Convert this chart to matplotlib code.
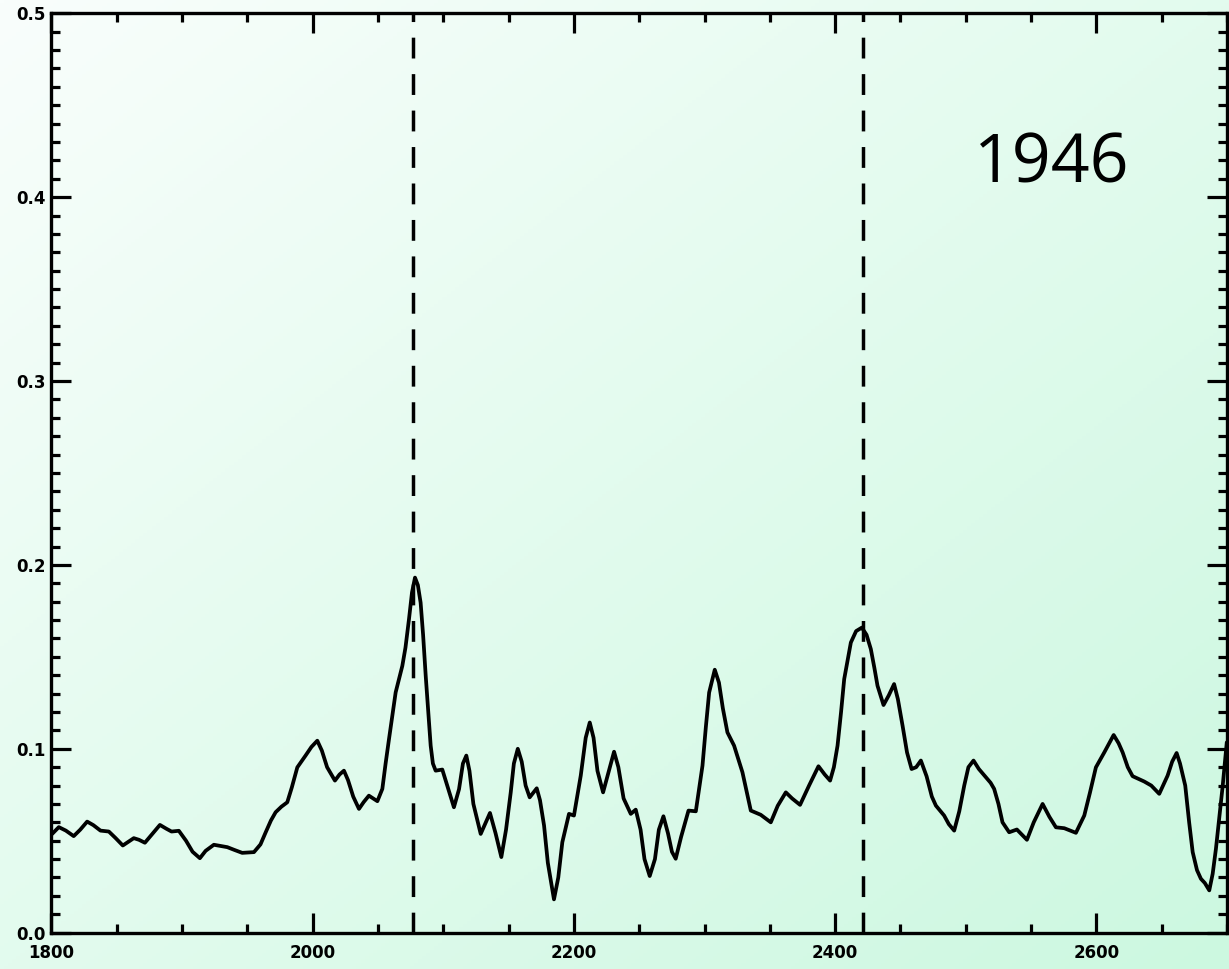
import numpy as np
import matplotlib.pyplot as plt
from matplotlib.ticker import MultipleLocator

# traced spectrum
wave = [1800.5, 1805.6, 1811, 1817, 1822, 1827.3, 1832, 1837.5, 1843.9, 1849,
        1854.6, 1859, 1863, 1867, 1871.5, 1877, 1883, 1888, 1891.9, 1897.5,
        1903, 1908, 1913.6, 1918, 1924.3, 1934.6, 1940, 1946, 1955, 1960,
        1964, 1968, 1971.6, 1976, 1980.5, 1984, 1988.2, 1994.5, 1999, 2003.5,
        2007, 2011, 2017, 2020.5, 2023.9, 2027, 2031, 2035.4, 2039, 2043,
        2049.5, 2053.3, 2055.8, 2058.4, 2063.5, 2068.6, 2071, 2073.7, 2076, 2078.3,
        2080.5, 2082.6, 2084.5, 2086.5, 2088.5, 2090.3, 2092, 2094.1, 2099.2, 2103,
        2108.1, 2112, 2115, 2117.6, 2120, 2123, 2128.6, 2135.7, 2140, 2144.4,
        2148, 2151.6, 2154, 2157, 2160, 2163, 2166.1, 2171.5, 2174, 2177.1,
        2180, 2184.7, 2188, 2191.1, 2196.2, 2200, 2205.2, 2209, 2212.1, 2215,
        2218, 2222.3, 2226, 2230.7, 2234, 2238, 2243.5, 2247.3, 2251, 2254,
        2258, 2262, 2265, 2268.5, 2272, 2275, 2277.9, 2282, 2287.7, 2293.3,
        2298.4, 2301, 2303.5, 2307.8, 2311, 2314, 2317.5, 2322.6, 2329, 2335.4,
        2343, 2350.7, 2356, 2362.2, 2367, 2373.1, 2380, 2387.2, 2392, 2396.1,
        2399, 2401.8, 2404.5, 2406.9, 2412, 2416, 2420.4, 2424, 2427.3, 2430,
        2432.4, 2437, 2441, 2445.1, 2448, 2451.6, 2455, 2458.5, 2462, 2465.6,
        2470, 2474, 2477.1, 2483.4, 2487, 2491.1, 2495, 2498.8, 2502, 2505.9,
        2510, 2515.4, 2519, 2521.7, 2525, 2528.1, 2533.2, 2539.1, 2546.8, 2552,
        2558.8, 2564, 2569, 2575.4, 2584.3, 2590.7, 2595, 2599.6, 2606, 2613.2,
        2617, 2620.1, 2624, 2627.7, 2636.6, 2642, 2648.1, 2654.5, 2658, 2661.4,
        2664, 2668, 2671, 2673.7, 2677, 2680, 2683, 2686.4, 2689, 2691.5,
        2694, 2696.7, 2699.8]
power = [0.0537, 0.0574, 0.0555, 0.0525, 0.0560, 0.0604, 0.0585, 0.0555, 0.0550, 0.0515,
         0.0474, 0.0495, 0.0514, 0.0505, 0.0489, 0.0535, 0.0586, 0.0565, 0.0550, 0.0554,
         0.0500, 0.0440, 0.0405, 0.0445, 0.0478, 0.0465, 0.0450, 0.0434, 0.0438, 0.0480,
         0.0546, 0.0610, 0.0655, 0.0685, 0.0709, 0.0790, 0.0899, 0.0963, 0.1010, 0.1044,
         0.0990, 0.0900, 0.0827, 0.0860, 0.0881, 0.0830, 0.0740, 0.0673, 0.0710, 0.0745,
         0.0715, 0.0782, 0.0920, 0.1053, 0.1307, 0.1451, 0.1550, 0.1705, 0.1850, 0.1931,
         0.1890, 0.1795, 0.1620, 0.1397, 0.1200, 0.1017, 0.0920, 0.0881, 0.0887, 0.0800,
         0.0682, 0.0780, 0.0920, 0.0963, 0.0880, 0.0700, 0.0537, 0.0651, 0.0540, 0.0411,
         0.0560, 0.0763, 0.0920, 0.1000, 0.0930, 0.0800, 0.0736, 0.0785, 0.0720, 0.0583,
         0.0380, 0.0181, 0.0300, 0.0492, 0.0646, 0.0637, 0.0854, 0.1060, 0.1143, 0.1060,
         0.0880, 0.0763, 0.0860, 0.0984, 0.0900, 0.0730, 0.0646, 0.0669, 0.0560, 0.0400,
         0.0308, 0.0400, 0.0560, 0.0633, 0.0540, 0.0440, 0.0402, 0.0520, 0.0664, 0.0660,
         0.0908, 0.1120, 0.1306, 0.1430, 0.1360, 0.1220, 0.1089, 0.1017, 0.0872, 0.0664,
         0.0641, 0.0600, 0.0690, 0.0763, 0.0730, 0.0695, 0.0800, 0.0905, 0.0860, 0.0827,
         0.0900, 0.1017, 0.1200, 0.1379, 0.1578, 0.1640, 0.1659, 0.1620, 0.1542, 0.1440,
         0.1343, 0.1238, 0.1290, 0.1352, 0.1270, 0.1125, 0.0980, 0.0890, 0.0900, 0.0936,
         0.0850, 0.0740, 0.0691, 0.0637, 0.0590, 0.0555, 0.0660, 0.0800, 0.0900, 0.0936,
         0.0890, 0.0845, 0.0815, 0.0782, 0.0700, 0.0600, 0.0546, 0.0561, 0.0505, 0.0600,
         0.0700, 0.0630, 0.0573, 0.0568, 0.0543, 0.0637, 0.0760, 0.0899, 0.0980, 0.1075,
         0.1030, 0.0980, 0.0900, 0.0851, 0.0822, 0.0800, 0.0755, 0.0854, 0.0930, 0.0977,
         0.0920, 0.0800, 0.0600, 0.0438, 0.0340, 0.0293, 0.0270, 0.0230, 0.0320, 0.0456,
         0.0620, 0.0800, 0.1035]

marker_lines = [2077, 2421]
label = "1946"

fig = plt.figure(figsize=(12.29, 9.69), dpi=100)

# diagonal white -> mint background
bg = fig.add_axes([0, 0, 1, 1], zorder=-1)
u, v = np.meshgrid(np.linspace(0, 1, 300), np.linspace(0, 1, 300))
t = (u + v) / 2
c0 = np.array([249, 254, 252]) / 255.0
c1 = np.array([204, 248, 224]) / 255.0
img = c0[None, None, :] * (1 - t[..., None]) + c1[None, None, :] * t[..., None]
bg.imshow(img, aspect='auto', extent=[0, 1, 0, 1], origin='upper')
bg.axis('off')

ax = fig.add_axes([0.0419, 0.0375, 0.9565, 0.9488])
ax.set_facecolor('none')

ax.plot(wave, power, color='black', lw=2.7, solid_joinstyle='round', solid_capstyle='round')
for xv in marker_lines:
    ax.axvline(xv, color='black', lw=2.5, dashes=(6, 4.5))

ax.text(2566, 0.4077, label, fontsize=49, family='Open Sans', ha='center', va='baseline')

ax.set_xlim(1800, 2700)
ax.set_ylim(0, 0.5)
ax.xaxis.set_major_locator(MultipleLocator(200))
ax.xaxis.set_minor_locator(MultipleLocator(50))
ax.yaxis.set_major_locator(MultipleLocator(0.1))
ax.yaxis.set_minor_locator(MultipleLocator(0.01))
ax.yaxis.set_major_formatter(plt.FuncFormatter(lambda v, p: '%.1f' % v))

ax.tick_params(which='both', direction='in', top=True, right=True, width=2.3, colors='black')
ax.tick_params(which='major', length=14.5)
ax.tick_params(which='minor', length=6.5)
ax.tick_params(axis='x', pad=8)
ax.tick_params(axis='y', pad=4)
for lab in ax.get_xticklabels() + ax.get_yticklabels():
    lab.set_fontweight('bold')
    lab.set_fontsize(12)
for s in ax.spines.values():
    s.set_linewidth(2.4)

fig.savefig('out.png', dpi=100)
